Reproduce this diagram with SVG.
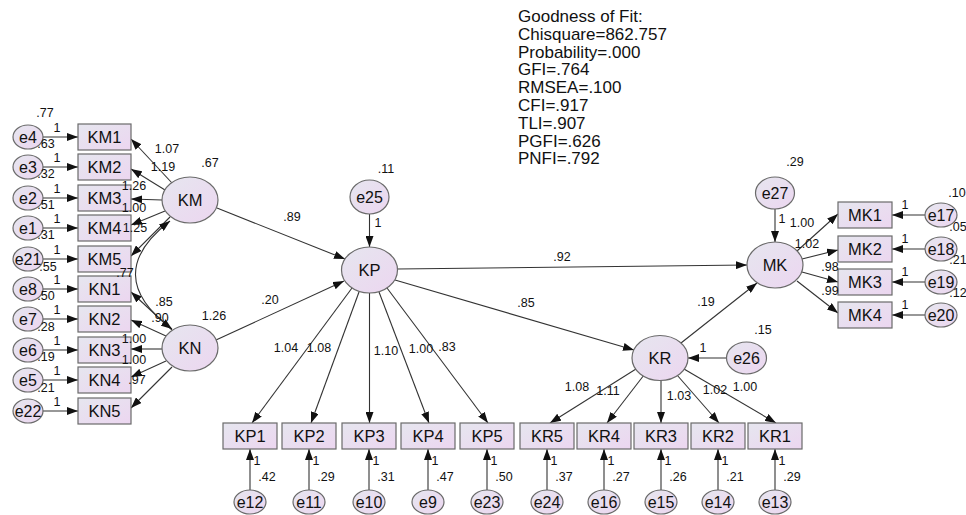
<svg xmlns="http://www.w3.org/2000/svg" width="966" height="515" viewBox="0 0 966 515">
<defs>
<linearGradient id="g" x1="0" y1="0" x2="1" y2="1">
<stop offset="0" stop-color="#e6e6ef"/>
<stop offset="1" stop-color="#ecd6f0"/>
</linearGradient>
<marker id="ah" viewBox="0 0 11 8" refX="11" refY="4" markerWidth="11" markerHeight="8" markerUnits="userSpaceOnUse" orient="auto-start-reverse">
<path d="M0,0 L11,4 L0,8 z" fill="#111"/>
</marker>
<style>
.box{fill:url(#g);stroke:#6a6a6a;stroke-width:1.2}
.ell{fill:url(#g);stroke:#6a6a6a;stroke-width:1.2}
.nl{font-family:"Liberation Sans",Arial,sans-serif;font-size:16.5px;fill:#111;text-anchor:middle}
.el{font-family:"Liberation Sans",Arial,sans-serif;font-size:16px;fill:#111;text-anchor:middle}
.pl{font-family:"Liberation Sans",Arial,sans-serif;font-size:12.5px;fill:#111;text-anchor:middle}
.fit{font-family:"Liberation Sans",Arial,sans-serif;font-size:17px;fill:#111}
.c{stroke:#333;stroke-width:1.1;fill:none;marker-end:url(#ah)}
.cv{stroke:#333;stroke-width:1.1;fill:none;marker-end:url(#ah);marker-start:url(#ah)}
</style>
</defs>
<rect width="966" height="515" fill="#fff"/>

<g id="fit">
<text class="fit" x="518" y="22">Goodness of Fit:</text>
<text class="fit" x="518" y="39.8">Chisquare=862.757</text>
<text class="fit" x="518" y="57.6">Probability=.000</text>
<text class="fit" x="518" y="75.4">GFI=.764</text>
<text class="fit" x="518" y="93.2">RMSEA=.100</text>
<text class="fit" x="518" y="111">CFI=.917</text>
<text class="fit" x="518" y="128.8">TLI=.907</text>
<text class="fit" x="518" y="146.6">PGFI=.626</text>
<text class="fit" x="518" y="164.4">PNFI=.792</text>
</g>

<g id="connectors">
<line class="c" x1="43" y1="137" x2="78" y2="137"/>
<line class="c" x1="43" y1="167" x2="78" y2="167"/>
<line class="c" x1="43" y1="198" x2="78" y2="198"/>
<line class="c" x1="43" y1="228" x2="78" y2="228"/>
<line class="c" x1="43" y1="259" x2="78" y2="259"/>
<line class="c" x1="43" y1="289" x2="78" y2="289"/>
<line class="c" x1="43" y1="319" x2="78" y2="319"/>
<line class="c" x1="43" y1="350" x2="78" y2="350"/>
<line class="c" x1="43" y1="380" x2="78" y2="380"/>
<line class="c" x1="43" y1="411" x2="78" y2="411"/>
<line class="c" x1="172" y1="183" x2="131" y2="139"/>
<line class="c" x1="165" y1="190" x2="131" y2="169"/>
<line class="c" x1="162" y1="200" x2="131" y2="199"/>
<line class="c" x1="165" y1="211" x2="131" y2="225"/>
<line class="c" x1="170" y1="217" x2="131" y2="256"/>
<line class="c" x1="172" y1="330" x2="131" y2="292"/>
<line class="c" x1="166" y1="336" x2="131" y2="320"/>
<line class="c" x1="162" y1="349" x2="131" y2="349"/>
<line class="c" x1="166" y1="361" x2="131" y2="377"/>
<line class="c" x1="172" y1="367" x2="131" y2="408"/>
<path class="cv" d="M170,221 Q100,275 172,329"/>
<line class="c" x1="217" y1="208" x2="345" y2="259"/>
<line class="c" x1="216" y1="340" x2="344" y2="281"/>
<line class="c" x1="369.5" y1="214" x2="369.5" y2="247"/>
<line class="c" x1="397" y1="269" x2="747" y2="265"/>
<line class="c" x1="395" y1="280" x2="634" y2="350"/>
<line class="c" x1="681" y1="343" x2="757" y2="283"/>
<line class="c" x1="775" y1="209" x2="775" y2="242"/>
<line class="c" x1="726" y1="358" x2="688" y2="358"/>
<line class="c" x1="352" y1="288" x2="252" y2="423"/>
<line class="c" x1="359" y1="292" x2="311" y2="423"/>
<line class="c" x1="369.5" y1="293" x2="369.5" y2="423"/>
<line class="c" x1="379" y1="292" x2="429" y2="423"/>
<line class="c" x1="387" y1="288" x2="488" y2="423"/>
<line class="c" x1="636" y1="369" x2="550" y2="423"/>
<line class="c" x1="644" y1="375" x2="607" y2="423"/>
<line class="c" x1="661" y1="380" x2="661" y2="423"/>
<line class="c" x1="677" y1="375" x2="719" y2="423"/>
<line class="c" x1="684" y1="369" x2="776" y2="423"/>
<line class="c" x1="250" y1="490" x2="250" y2="449"/>
<line class="c" x1="309" y1="490" x2="309" y2="449"/>
<line class="c" x1="369" y1="490" x2="369" y2="449"/>
<line class="c" x1="428" y1="490" x2="428" y2="449"/>
<line class="c" x1="487" y1="490" x2="487" y2="449"/>
<line class="c" x1="547" y1="490" x2="547" y2="449"/>
<line class="c" x1="604" y1="490" x2="604" y2="449"/>
<line class="c" x1="661" y1="490" x2="661" y2="449"/>
<line class="c" x1="718" y1="490" x2="718" y2="449"/>
<line class="c" x1="775" y1="490" x2="775" y2="449"/>
<line class="c" x1="797" y1="251" x2="838" y2="214"/>
<line class="c" x1="802" y1="259" x2="838" y2="250"/>
<line class="c" x1="802" y1="272" x2="838" y2="282"/>
<line class="c" x1="797" y1="281" x2="838" y2="313"/>
<line class="c" x1="925" y1="215" x2="892" y2="215"/>
<line class="c" x1="925" y1="249" x2="892" y2="249"/>
<line class="c" x1="925" y1="282" x2="892" y2="282"/>
<line class="c" x1="925" y1="315" x2="892" y2="315"/>
</g>

<g id="KM"><ellipse class="ell" cx="190" cy="200" rx="28" ry="23"/><text class="nl" x="190" y="206">KM</text></g>
<g id="KN"><ellipse class="ell" cx="190" cy="348" rx="28" ry="23"/><text class="nl" x="190" y="354">KN</text></g>
<g id="KP"><ellipse class="ell" cx="369.5" cy="270" rx="28" ry="23"/><text class="nl" x="369.5" y="276">KP</text></g>
<g id="KR"><ellipse class="ell" cx="660" cy="358" rx="28" ry="22.5"/><text class="nl" x="660" y="364">KR</text></g>
<g id="MK"><ellipse class="ell" cx="775" cy="265" rx="28" ry="23"/><text class="nl" x="775" y="271">MK</text></g>
<g id="e25"><ellipse class="ell" cx="369.5" cy="197" rx="19.5" ry="17"/><text class="el" x="369.5" y="202.5">e25</text></g>
<g id="e27"><ellipse class="ell" cx="775" cy="193" rx="19.5" ry="16"/><text class="el" x="775" y="198.5">e27</text></g>
<g id="e26"><ellipse class="ell" cx="746.5" cy="358" rx="20" ry="16"/><text class="el" x="746.5" y="363.5">e26</text></g>

<g id="KM1"><rect class="box" x="78" y="124" width="53" height="26"/><text class="nl" x="104.5" y="143">KM1</text></g>
<g id="KM2"><rect class="box" x="78" y="154" width="53" height="26"/><text class="nl" x="104.5" y="173">KM2</text></g>
<g id="KM3"><rect class="box" x="78" y="185" width="53" height="26"/><text class="nl" x="104.5" y="204">KM3</text></g>
<g id="KM4"><rect class="box" x="78" y="215" width="53" height="26"/><text class="nl" x="104.5" y="234">KM4</text></g>
<g id="KM5"><rect class="box" x="78" y="246" width="53" height="26"/><text class="nl" x="104.5" y="265">KM5</text></g>
<g id="KN1"><rect class="box" x="78" y="276" width="53" height="26"/><text class="nl" x="104.5" y="295">KN1</text></g>
<g id="KN2"><rect class="box" x="78" y="306" width="53" height="26"/><text class="nl" x="104.5" y="325">KN2</text></g>
<g id="KN3"><rect class="box" x="78" y="337" width="53" height="26"/><text class="nl" x="104.5" y="356">KN3</text></g>
<g id="KN4"><rect class="box" x="78" y="367" width="53" height="26"/><text class="nl" x="104.5" y="386">KN4</text></g>
<g id="KN5"><rect class="box" x="78" y="398" width="53" height="26"/><text class="nl" x="104.5" y="417">KN5</text></g>

<g id="e4"><ellipse class="ell" cx="28" cy="137" rx="15" ry="12"/><text class="el" x="28" y="142.5">e4</text></g>
<g id="e3"><ellipse class="ell" cx="28" cy="167" rx="15" ry="12"/><text class="el" x="28" y="172.5">e3</text></g>
<g id="e2"><ellipse class="ell" cx="28" cy="198" rx="15" ry="12"/><text class="el" x="28" y="203.5">e2</text></g>
<g id="e1"><ellipse class="ell" cx="28" cy="228" rx="15" ry="12"/><text class="el" x="28" y="233.5">e1</text></g>
<g id="e21"><ellipse class="ell" cx="28" cy="259" rx="15" ry="12"/><text class="el" x="28" y="264.5">e21</text></g>
<g id="e8"><ellipse class="ell" cx="28" cy="289" rx="15" ry="12"/><text class="el" x="28" y="294.5">e8</text></g>
<g id="e7"><ellipse class="ell" cx="28" cy="319" rx="15" ry="12"/><text class="el" x="28" y="324.5">e7</text></g>
<g id="e6"><ellipse class="ell" cx="28" cy="350" rx="15" ry="12"/><text class="el" x="28" y="355.5">e6</text></g>
<g id="e5"><ellipse class="ell" cx="28" cy="380" rx="15" ry="12"/><text class="el" x="28" y="385.5">e5</text></g>
<g id="e22"><ellipse class="ell" cx="28" cy="411" rx="15" ry="12"/><text class="el" x="28" y="416.5">e22</text></g>

<g id="KP1"><rect class="box" x="223" y="423" width="54" height="26"/><text class="nl" x="250" y="442">KP1</text></g>
<g id="KP2"><rect class="box" x="282" y="423" width="54" height="26"/><text class="nl" x="309" y="442">KP2</text></g>
<g id="KP3"><rect class="box" x="342" y="423" width="54" height="26"/><text class="nl" x="369" y="442">KP3</text></g>
<g id="KP4"><rect class="box" x="401" y="423" width="54" height="26"/><text class="nl" x="428" y="442">KP4</text></g>
<g id="KP5"><rect class="box" x="460" y="423" width="54" height="26"/><text class="nl" x="487" y="442">KP5</text></g>
<g id="KR5"><rect class="box" x="520" y="423" width="54" height="26"/><text class="nl" x="547" y="442">KR5</text></g>
<g id="KR4"><rect class="box" x="577" y="423" width="54" height="26"/><text class="nl" x="604" y="442">KR4</text></g>
<g id="KR3"><rect class="box" x="634" y="423" width="54" height="26"/><text class="nl" x="661" y="442">KR3</text></g>
<g id="KR2"><rect class="box" x="691" y="423" width="54" height="26"/><text class="nl" x="718" y="442">KR2</text></g>
<g id="KR1"><rect class="box" x="748" y="423" width="54" height="26"/><text class="nl" x="775" y="442">KR1</text></g>

<g id="e12"><ellipse class="ell" cx="250" cy="502" rx="16" ry="12"/><text class="el" x="250" y="507.5">e12</text></g>
<g id="e11"><ellipse class="ell" cx="309" cy="502" rx="16" ry="12"/><text class="el" x="309" y="507.5">e11</text></g>
<g id="e10"><ellipse class="ell" cx="369" cy="502" rx="16" ry="12"/><text class="el" x="369" y="507.5">e10</text></g>
<g id="e9"><ellipse class="ell" cx="428" cy="502" rx="16" ry="12"/><text class="el" x="428" y="507.5">e9</text></g>
<g id="e23"><ellipse class="ell" cx="487" cy="502" rx="16" ry="12"/><text class="el" x="487" y="507.5">e23</text></g>
<g id="e24"><ellipse class="ell" cx="547" cy="502" rx="16" ry="12"/><text class="el" x="547" y="507.5">e24</text></g>
<g id="e16"><ellipse class="ell" cx="604" cy="502" rx="16" ry="12"/><text class="el" x="604" y="507.5">e16</text></g>
<g id="e15"><ellipse class="ell" cx="661" cy="502" rx="16" ry="12"/><text class="el" x="661" y="507.5">e15</text></g>
<g id="e14"><ellipse class="ell" cx="718" cy="502" rx="16" ry="12"/><text class="el" x="718" y="507.5">e14</text></g>
<g id="e13"><ellipse class="ell" cx="775" cy="502" rx="16" ry="12"/><text class="el" x="775" y="507.5">e13</text></g>

<g id="MK1"><rect class="box" x="838" y="202" width="54" height="26"/><text class="nl" x="865" y="221">MK1</text></g>
<g id="MK2"><rect class="box" x="838" y="236" width="54" height="26"/><text class="nl" x="865" y="255">MK2</text></g>
<g id="MK3"><rect class="box" x="838" y="269" width="54" height="26"/><text class="nl" x="865" y="288">MK3</text></g>
<g id="MK4"><rect class="box" x="838" y="302" width="54" height="26"/><text class="nl" x="865" y="321">MK4</text></g>
<g id="e17"><ellipse class="ell" cx="941" cy="215" rx="16" ry="12"/><text class="el" x="941" y="220.5">e17</text></g>
<g id="e18"><ellipse class="ell" cx="941" cy="249" rx="16" ry="12"/><text class="el" x="941" y="254.5">e18</text></g>
<g id="e19"><ellipse class="ell" cx="941" cy="282" rx="16" ry="12"/><text class="el" x="941" y="287.5">e19</text></g>
<g id="e20"><ellipse class="ell" cx="941" cy="315" rx="16" ry="12"/><text class="el" x="941" y="320.5">e20</text></g>

<g id="connector-labels">
<text class="pl" x="57" y="132">1</text>
<text class="pl" x="57" y="162">1</text>
<text class="pl" x="57" y="193">1</text>
<text class="pl" x="57" y="223">1</text>
<text class="pl" x="57" y="254">1</text>
<text class="pl" x="57" y="284">1</text>
<text class="pl" x="57" y="314">1</text>
<text class="pl" x="57" y="345">1</text>
<text class="pl" x="57" y="375">1</text>
<text class="pl" x="57" y="406">1</text>
<text class="pl" x="45" y="117">.77</text>
<text class="pl" x="46" y="148">.63</text>
<text class="pl" x="46" y="178">.32</text>
<text class="pl" x="46" y="209">.51</text>
<text class="pl" x="46" y="239">.31</text>
<text class="pl" x="48" y="271">.55</text>
<text class="pl" x="46" y="300">.50</text>
<text class="pl" x="46" y="331">.28</text>
<text class="pl" x="46" y="361">.19</text>
<text class="pl" x="46" y="392">.21</text>
<text class="pl" x="167" y="153">1.07</text>
<text class="pl" x="163" y="171">1.19</text>
<text class="pl" x="134" y="190">1.26</text>
<text class="pl" x="134" y="212">1.00</text>
<text class="pl" x="135" y="232">1.25</text>
<text class="pl" x="210" y="167">.67</text>
<text class="pl" x="125" y="277">.77</text>
<text class="pl" x="164" y="306">.85</text>
<text class="pl" x="160" y="322">.90</text>
<text class="pl" x="134" y="343">1.00</text>
<text class="pl" x="134" y="364">1.00</text>
<text class="pl" x="137" y="384">.97</text>
<text class="pl" x="214" y="320">1.26</text>
<text class="pl" x="292" y="221">.89</text>
<text class="pl" x="270" y="304">.20</text>
<text class="pl" x="386" y="173">.11</text>
<text class="pl" x="378" y="227">1</text>
<text class="pl" x="286" y="352">1.04</text>
<text class="pl" x="319" y="352">1.08</text>
<text class="pl" x="386" y="355">1.10</text>
<text class="pl" x="421" y="353">1.00</text>
<text class="pl" x="447" y="351">.83</text>
<text class="pl" x="562" y="261">.92</text>
<text class="pl" x="526" y="307">.85</text>
<text class="pl" x="706" y="306">.19</text>
<text class="pl" x="703" y="352">1</text>
<text class="pl" x="763" y="334">.15</text>
<text class="pl" x="577" y="391">1.08</text>
<text class="pl" x="608" y="395">1.11</text>
<text class="pl" x="679" y="400">1.03</text>
<text class="pl" x="715" y="394">1.02</text>
<text class="pl" x="745" y="391">1.00</text>
<text class="pl" x="782" y="223">1</text>
<text class="pl" x="795" y="166">.29</text>
<text class="pl" x="802" y="227">1.00</text>
<text class="pl" x="807" y="248">1.02</text>
<text class="pl" x="830" y="271">.98</text>
<text class="pl" x="830" y="295">.99</text>
<text class="pl" x="905" y="209">1</text>
<text class="pl" x="905" y="243">1</text>
<text class="pl" x="905" y="276">1</text>
<text class="pl" x="905" y="309">1</text>
<text class="pl" x="957" y="197">.10</text>
<text class="pl" x="958" y="231">.05</text>
<text class="pl" x="958" y="264">.21</text>
<text class="pl" x="958" y="297">.12</text>
<text class="pl" x="257" y="465">1</text>
<text class="pl" x="316" y="465">1</text>
<text class="pl" x="376" y="465">1</text>
<text class="pl" x="435" y="465">1</text>
<text class="pl" x="494" y="465">1</text>
<text class="pl" x="554" y="465">1</text>
<text class="pl" x="611" y="465">1</text>
<text class="pl" x="668" y="465">1</text>
<text class="pl" x="725" y="465">1</text>
<text class="pl" x="782" y="465">1</text>
<text class="pl" x="267" y="481">.42</text>
<text class="pl" x="326" y="481">.29</text>
<text class="pl" x="386" y="481">.31</text>
<text class="pl" x="445" y="481">.47</text>
<text class="pl" x="504" y="481">.50</text>
<text class="pl" x="564" y="481">.37</text>
<text class="pl" x="621" y="481">.27</text>
<text class="pl" x="678" y="481">.26</text>
<text class="pl" x="735" y="481">.21</text>
<text class="pl" x="792" y="481">.29</text>
</g>
</svg>
